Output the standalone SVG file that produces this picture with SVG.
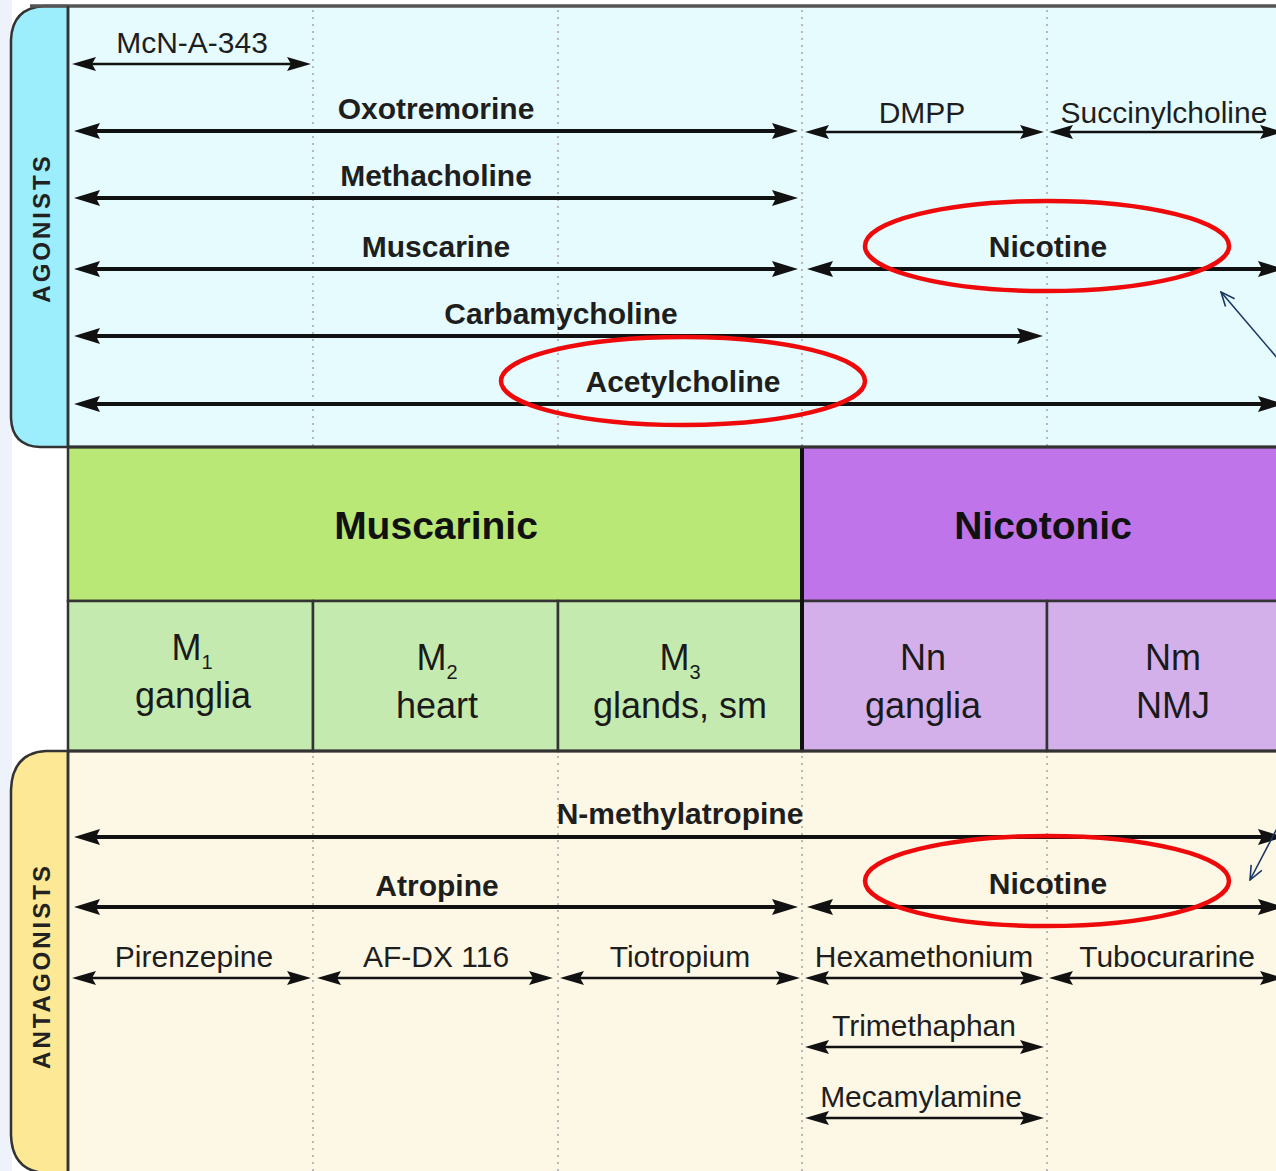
<svg xmlns="http://www.w3.org/2000/svg" width="1276" height="1171" viewBox="0 0 1276 1171">
<defs>
<style>
.lbl{font-family:"Liberation Sans",Arial,sans-serif;font-size:30px;fill:#1e1e1e;text-anchor:middle}
.b{font-weight:bold}
.sub{font-family:"Liberation Sans",Arial,sans-serif;font-size:36px;fill:#1a1a1a;text-anchor:middle}
.hdr{font-family:"Liberation Sans",Arial,sans-serif;font-size:39px;font-weight:bold;fill:#111;text-anchor:middle}
.side{font-family:"Liberation Sans",Arial,sans-serif;font-size:24px;font-weight:bold;fill:#222;text-anchor:middle;letter-spacing:3px}
.thin{stroke:#111;stroke-width:2.6;fill:none;marker-start:url(#ah);marker-end:url(#ah)}
.bold{stroke:#111;stroke-width:4;fill:none;marker-start:url(#ahb);marker-end:url(#ahb)}
.dot{stroke:#b9b9b9;stroke-width:2;stroke-dasharray:2 5;fill:none}
.ring{fill:none;stroke:#ee0a0a;stroke-width:4.5}
.pointer{stroke:#1c3764;stroke-width:1.6;fill:none;marker-end:url(#open)}
.cell{stroke:#333;stroke-width:2.5}
</style>
<marker id="ah" viewBox="0 0 24 14" refX="16" refY="7" markerWidth="24" markerHeight="14" markerUnits="userSpaceOnUse" orient="auto-start-reverse"><path d="M0,0 L24,7 L0,14 L4,7 z" fill="#111"/></marker>
<marker id="ahb" viewBox="0 0 26 16" refX="18" refY="8" markerWidth="26" markerHeight="16" markerUnits="userSpaceOnUse" orient="auto-start-reverse"><path d="M0,0 L26,8 L0,16 L4,8 z" fill="#111"/></marker>
<marker id="open" viewBox="0 0 16 14" refX="15" refY="7" markerWidth="16" markerHeight="14" markerUnits="userSpaceOnUse" orient="auto"><path d="M1,1 L15,7 L1,13" fill="none" stroke="#1c3764" stroke-width="1.6"/></marker>
</defs>
<rect width="1276" height="1171" fill="#ffffff"/>
<path d="M0,0 L12,0 L12,1171 L0,1171 z" fill="#eef2fa"/>

<g id="agonists-panel">
<rect x="68" y="6" width="1220" height="441" fill="#e6fbfe"/>
<path d="M68,6 L44,6 Q12,8 11,40 L11,418 Q12,446 40,447 L68,447 z" fill="#9deefc" stroke="#333" stroke-width="2.5"/>
<line x1="30" y1="6" x2="1276" y2="6" stroke="#555" stroke-width="3.5"/>
<line x1="68" y1="6" x2="68" y2="447" stroke="#333" stroke-width="2.5"/>
<line x1="313" y1="10" x2="313" y2="446" class="dot"/>
<line x1="558" y1="10" x2="558" y2="446" class="dot"/>
<line x1="802" y1="10" x2="802" y2="446" class="dot"/>
<line x1="1047" y1="10" x2="1047" y2="446" class="dot"/>
<text class="side" transform="translate(50,228) rotate(-90)">AGONISTS</text>
</g>

<g id="antagonists-panel">
<rect x="68" y="751" width="1220" height="430" fill="#fdf8e6"/>
<path d="M68,751 L46,751 Q12,753 11,790 L11,1135 Q12,1170 44,1173 L68,1173 z" fill="#fde995" stroke="#333" stroke-width="2.5"/>
<line x1="68" y1="751" x2="68" y2="1171" stroke="#333" stroke-width="2.5"/>
<line x1="313" y1="756" x2="313" y2="1171" class="dot"/>
<line x1="558" y1="756" x2="558" y2="1171" class="dot"/>
<line x1="802" y1="756" x2="802" y2="1171" class="dot"/>
<line x1="1047" y1="756" x2="1047" y2="1171" class="dot"/>
<text class="side" transform="translate(50,966) rotate(-90)">ANTAGONISTS</text>
</g>

<g id="muscarinic">
<rect x="68" y="447" width="734" height="154" fill="#b9e877" class="cell"/>
<text class="hdr" x="436" y="539">Muscarinic</text>
</g>
<g id="nicotonic">
<rect x="802" y="447" width="490" height="154" fill="#bf74e9" class="cell"/>
<text class="hdr" x="1043" y="539">Nicotonic</text>
</g>
<g id="m1">
<rect x="68" y="601" width="245" height="150" fill="#c5eab0" class="cell"/>
<text class="sub" x="192" y="660">M<tspan font-size="20" dy="9">1</tspan></text>
<text class="sub" x="193" y="708">ganglia</text>
</g>
<g id="m2">
<rect x="313" y="601" width="245" height="150" fill="#c5eab0" class="cell"/>
<text class="sub" x="437" y="670">M<tspan font-size="20" dy="9">2</tspan></text>
<text class="sub" x="437" y="718">heart</text>
</g>
<g id="m3">
<rect x="558" y="601" width="244" height="150" fill="#c5eab0" class="cell"/>
<text class="sub" x="680" y="670">M<tspan font-size="20" dy="9">3</tspan></text>
<text class="sub" x="680" y="718">glands, sm</text>
</g>
<g id="nn">
<rect x="802" y="601" width="245" height="150" fill="#d4b0ea" class="cell"/>
<text class="sub" x="923" y="670">Nn</text>
<text class="sub" x="923" y="718">ganglia</text>
</g>
<g id="nm">
<rect x="1047" y="601" width="245" height="150" fill="#d4b0ea" class="cell"/>
<text class="sub" x="1173" y="670">Nm</text>
<text class="sub" x="1173" y="718">NMJ</text>
</g>
<line x1="802" y1="447" x2="802" y2="751" stroke="#111" stroke-width="4"/>
<line x1="68" y1="447" x2="1276" y2="447" stroke="#333" stroke-width="3"/>
<line x1="68" y1="751" x2="1276" y2="751" stroke="#333" stroke-width="3"/>

<g id="connectors">
<g id="a-mcn"><path class="thin" d="M80,64 L303,64"/><text class="lbl" x="192" y="53">McN-A-343</text></g>
<g id="a-oxo"><path class="bold" d="M82,131 L790,131"/><text class="lbl b" x="436" y="119">Oxotremorine</text></g>
<g id="a-dmpp"><path class="thin" d="M813,132 L1036,132"/><text class="lbl" x="922" y="123">DMPP</text></g>
<g id="a-succ"><path class="thin" d="M1057,132 L1276,132"/><text class="lbl" x="1164" y="123">Succinylcholine</text></g>
<g id="a-metha"><path class="bold" d="M82,198 L790,198"/><text class="lbl b" x="436" y="186">Methacholine</text></g>
<g id="a-musc"><path class="bold" d="M82,269 L790,269"/><text class="lbl b" x="436" y="257">Muscarine</text></g>
<g id="a-nic"><path class="bold" d="M815,269 L1276,269"/><text class="lbl b" x="1048" y="257">Nicotine</text></g>
<g id="a-carb"><path class="bold" d="M82,336 L1035,336"/><text class="lbl b" x="561" y="324">Carbamycholine</text></g>
<g id="a-ach"><path class="bold" d="M82,404 L1276,404"/><text class="lbl b" x="683" y="392">Acetylcholine</text></g>

<g id="x-nmeth"><path class="bold" d="M82,837 L1276,837"/><text class="lbl b" x="680" y="824">N-methylatropine</text></g>
<g id="x-atro"><path class="bold" d="M82,907 L790,907"/><text class="lbl b" x="437" y="896">Atropine</text></g>
<g id="x-nic"><path class="bold" d="M815,907 L1276,907"/><text class="lbl b" x="1048" y="894">Nicotine</text></g>
<g id="x-piren"><path class="thin" d="M80,978 L303,978"/><text class="lbl" x="194" y="967">Pirenzepine</text></g>
<g id="x-afdx"><path class="thin" d="M325,978 L545,978"/><text class="lbl" x="436" y="967">AF-DX 116</text></g>
<g id="x-tio"><path class="thin" d="M568,978 L792,978"/><text class="lbl" x="680" y="967">Tiotropium</text></g>
<g id="x-hexa"><path class="thin" d="M813,978 L1036,978"/><text class="lbl" x="924" y="967">Hexamethonium</text></g>
<g id="x-tubo"><path class="thin" d="M1057,978 L1276,978"/><text class="lbl" x="1167" y="967">Tubocurarine</text></g>
<g id="x-trim"><path class="thin" d="M813,1047 L1036,1047"/><text class="lbl" x="924" y="1036">Trimethaphan</text></g>
<g id="x-meca"><path class="thin" d="M813,1118 L1036,1118"/><text class="lbl" x="921" y="1107">Mecamylamine</text></g>
</g>

<g id="highlights">
<ellipse class="ring" cx="1047" cy="246" rx="182" ry="45"/>
<ellipse class="ring" cx="683" cy="381" rx="182" ry="44"/>
<ellipse class="ring" cx="1047" cy="881" rx="182" ry="45"/>
<path class="pointer" d="M1290,373 L1221,292"/>
<path class="pointer" d="M1283,817 L1250,880"/>
</g>
</svg>
